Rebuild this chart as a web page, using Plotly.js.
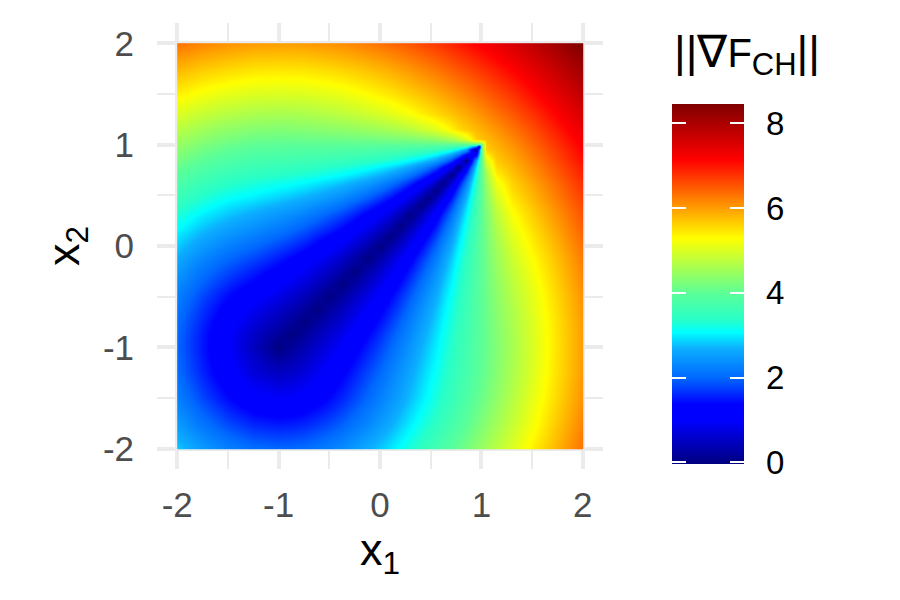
<!DOCTYPE html>
<html>
<head>
<meta charset="utf-8">
<script src="https://cdn.plot.ly/plotly-3.0.1.min.js"></script>
<style>html,body{margin:0;padding:0;background:#fff}</style>
</head>
<body>
<div id="chart" style="width:900px;height:600px"></div>
<script>
const gridCoords = [-2,-1.75,-1.5,-1.25,-1,-.875,-.75,-.625,-.5,-.375,-.25,-.125,0,.1,.2,.3,.4,.475,.55,.625,.7,.775,.85,.95,.98,1,1.05,1.15,1.3,1.5,1.75,2];
// Values, one row per coordinate, starting at the diagonal (the picture is mirror-symmetric).
const zUpper = [
[2.83,2.5,2.24,2.06,2,2.02,2.06,2.14,2.24,2.36,2.5,2.66,2.83,2.97,3.12,3.28,3.44,3.56,3.69,3.82,3.94,4.07,4.21,4.38,4.44,4.47,4.56,4.74,5.02,5.39,5.85,6.32],
[2.12,1.8,1.58,1.5,1.52,1.58,1.68,1.8,1.95,2.12,2.3,2.5,2.66,2.83,3,3.18,3.31,3.44,3.58,3.72,3.85,3.99,4.18,4.23,4.27,4.37,4.55,4.84,5.22,5.7,6.18],
[1.41,1.12,1,1.03,1.12,1.25,1.41,1.6,1.8,2.02,2.24,2.42,2.6,2.79,2.97,3.11,3.26,3.4,3.54,3.69,3.83,4.03,4.08,4.12,4.22,4.41,4.71,5.1,5.59,6.08],
[.71,.5,.56,.71,.9,1.11,1.33,1.55,1.79,2.03,2.23,2.43,2.63,2.83,2.99,3.14,3.29,3.44,3.59,3.73,3.93,3.99,4.03,4.13,4.33,4.63,5.02,5.52,6.02],
[0,.18,.38,.58,.8,1.03,1.27,1.53,1.79,2.01,2.23,2.45,2.68,2.85,3.02,3.19,3.36,3.53,3.69,3.9,3.96,4,4.1,4.3,4.6,5,5.5,6],
[0,.19,.4,.62,.86,1.11,1.37,1.65,1.88,2.11,2.35,2.59,2.77,2.96,3.14,3.32,3.5,3.67,3.89,3.96,4,4.1,4.31,4.61,5.01,5.51,6],
[0,.21,.43,.67,.93,1.2,1.49,1.73,1.98,2.23,2.49,2.68,2.88,3.07,3.27,3.46,3.64,3.88,3.95,4,4.11,4.33,4.63,5.02,5.52,6.02],
[0,.23,.47,.73,1.01,1.31,1.56,1.82,2.09,2.37,2.58,2.79,3,3.21,3.41,3.62,3.87,3.95,4,4.12,4.35,4.66,5.06,5.55,6.05],
[0,.25,.51,.8,1.11,1.37,1.65,1.93,2.23,2.45,2.68,2.91,3.14,3.36,3.58,3.86,3.95,4,4.13,4.38,4.71,5.1,5.59,6.08],
[0,.27,.56,.88,1.16,1.45,1.75,2.07,2.31,2.56,2.81,3.06,3.3,3.54,3.85,3.94,4,4.14,4.41,4.76,5.15,5.64,6.13],
[0,.3,.62,.91,1.21,1.54,1.87,2.14,2.41,2.68,2.96,3.23,3.49,3.84,3.94,4,4.16,4.45,4.82,5.22,5.7,6.18],
[0,.33,.62,.94,1.28,1.65,1.93,2.23,2.53,2.83,3.14,3.44,3.82,3.93,4,4.17,4.49,4.9,5.3,5.77,6.25],
[0,.3,.62,.98,1.37,1.68,2.01,2.34,2.68,3.02,3.36,3.8,3.92,4,4.2,4.55,4.98,5.39,5.85,6.32],
[0,.33,.7,1.11,1.44,1.79,2.15,2.53,2.91,3.29,3.77,3.91,4,4.22,4.6,5.06,5.46,5.92,6.39],
[0,.38,.8,1.15,1.53,1.92,2.34,2.77,3.19,3.74,3.9,4,4.24,4.67,5.15,5.55,6,6.46],
[0,.43,.8,1.2,1.64,2.1,2.58,3.07,3.7,3.89,4,4.27,4.75,5.25,5.64,6.08,6.54],
[0,.38,.8,1.27,1.79,2.34,2.91,3.65,3.87,4,4.32,4.85,5.37,5.73,6.17,6.62],
[0,.43,.93,1.49,2.1,2.75,3.61,3.85,4,4.36,4.95,5.45,5.81,6.24,6.69],
[0,.51,1.11,1.79,2.53,3.53,3.82,4,4.42,5.06,5.55,5.88,6.31,6.75],
[0,.62,1.37,2.23,3.44,3.79,4,4.5,5.2,5.63,5.96,6.39,6.82],
[0,.8,1.79,3.29,3.72,4,4.6,5.37,5.72,6.05,6.47,6.9],
[0,1.11,3.04,3.63,4,4.77,5.55,5.81,6.13,6.55,6.97],
[0,2.53,3.44,4,5.06,5.67,5.9,6.22,6.63,7.05],
[0,2.23,4,5.66,5.81,6.03,6.34,6.74,7.16],
[0,4,5.7,5.85,6.07,6.38,6.78,7.19],
[4,5.73,5.87,6.1,6.4,6.8,7.21],
[5.8,5.94,6.16,6.47,6.86,7.27],
[6.08,6.3,6.59,6.98,7.38],
[6.51,6.79,7.17,7.56],
[7.07,7.43,7.81],
[7.78,8.14],
[8.47]
];
const axisTicks = [-2,-1,0,1,2];
const axisTickLabels = ["-2","-1","0","1","2"];
const minorTicks = [-1.5,-.5,.5,1.5];
const barTicks = [0,2,4,6,8];
const zMin = -0.03, zMax = 8.47;
const jetStops = [
 [0,"#00007F"],[.121,"#0000FF"],[.166,"#0000FF"],[.239,"#0068FF"],[.321,"#0CAFFF"],[.366,"#00FFFF"],
 [.400,"#28FFC8"],[.474,"#5CFF98"],[.627,"#FFFF00"],[.845,"#FF0000"],[1,"#7F0000"]
];

// Mirror the upper triangle into the full table.
const n = gridCoords.length;
const zFull = gridCoords.map((_, i) => gridCoords.map((_, j) => {
  const a = Math.min(i, j), b = Math.max(i, j);
  return zUpper[a][b - a];
}));
// Repeat the outermost rows a hair inside so the raster stops at the data limits.
const eps = 0.001;
const coords = [gridCoords[0], gridCoords[0] + eps, ...gridCoords.slice(1, -1), gridCoords[n-1] - eps, gridCoords[n-1]];
const pad = r => [r[0], ...r, r[r.length-1]];
const zPadded = pad(zFull.map(pad));

const W = 900, H = 600;
const L = 157, R = 603, T = 23.2, B = 469.2;
const barLeft = 672, barW = 72, barBottom = 463.7, barLen = 360;
const fam = "Liberation Sans, Arial, sans-serif";
const pw = R - L, ph = B - T;
const grid = {
  showgrid:true, gridcolor:"#EBEBEB", gridwidth:4, zeroline:false, showline:false,
  tickmode:"array", tickvals:axisTicks, ticktext:axisTickLabels,
  ticks:"outside", tickcolor:"rgba(0,0,0,0)", tickwidth:1,
  tickfont:{family:fam, size:35, color:"#4D4D4D"},
  range:[-2.2,2.2], fixedrange:true,
  minor:{tickvals:minorTicks, showgrid:true, gridcolor:"#EBEBEB", gridwidth:2, ticks:""}
};
const titleFont = {family:fam, size:45, color:"#000"};
const barMarks = [];
barTicks.forEach(v => {
  const yPaper = (B - (barBottom - (v - zMin) / (zMax - zMin) * barLen)) / ph;
  [barLeft, barLeft + barW - 14].forEach(px => {
    barMarks.push({xref:"paper", yref:"paper", x:(px - L) / pw, y:yPaper, xanchor:"left", yanchor:"middle",
      text:"\u00a0", font:{size:1}, width:14, height:1.5, bgcolor:"#FFFFFF", borderpad:0, borderwidth:0, showarrow:false});
  });
});
const data = [{
  type:"heatmap", x:coords, y:coords, z:zPadded, zsmooth:"best",
  zmin:zMin, zmax:zMax, colorscale:jetStops, hoverinfo:"skip",
  colorbar:{
    thicknessmode:"pixels", thickness:barW, lenmode:"pixels", len:barLen,
    x:(barLeft - L) / pw, xanchor:"left", xpad:0,
    y:(B - barBottom) / ph, yanchor:"bottom", ypad:0,
    outlinewidth:0, borderwidth:0,
    tickmode:"array", tickvals:barTicks, ticktext:barTicks.map(String),
    ticks:"outside", ticklen:16, tickcolor:"rgba(0,0,0,0)",
    tickfont:{family:fam, size:33, color:"#000"}
  }
}];
const layout = {
  width:W, height:H, autosize:false,
  margin:{l:L, r:W - R, t:T, b:H - B, pad:0, autoexpand:false},
  paper_bgcolor:"#fff", plot_bgcolor:"#fff", showlegend:false,
  xaxis:Object.assign({}, grid, {ticklen:5, title:{text:"x<sub>1</sub>", font:titleFont, standoff:0}, automargin:false}),
  yaxis:Object.assign({}, grid, {ticklen:15, title:{text:"x<sub>2</sub>", font:titleFont, standoff:9}, automargin:false}),
  annotations:[
    ...barMarks,
    {xref:"paper", yref:"paper", x:(672 - L) / pw, y:(B - 54) / ph, xanchor:"left", yanchor:"middle", showarrow:false,
     text:"<span style=\"font-size:45px\">||</span><span style=\"font-size:45px\">\u2207</span>F<sub><span style=\"font-size:31px\">CH</span></sub><span style=\"font-size:45px\">||</span>",
     font:{family:fam, size:40, color:"#000"}}
  ]
};
Plotly.newPlot("chart", data, layout, {displayModeBar:false, staticPlot:true});
</script>
</body>
</html>
